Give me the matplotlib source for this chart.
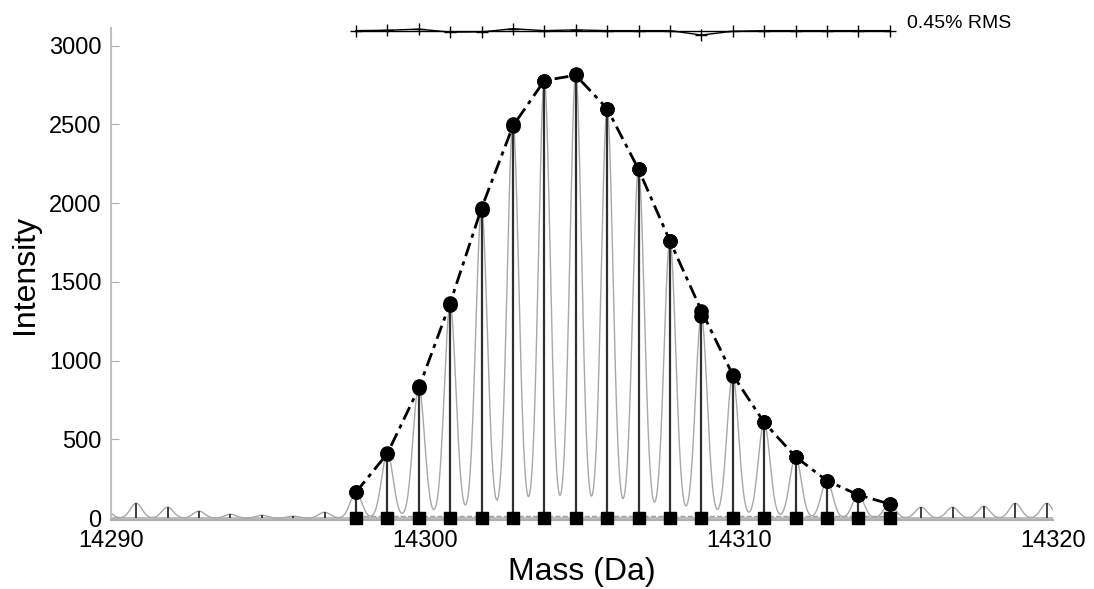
import numpy as np
import matplotlib
matplotlib.use("Agg")
import matplotlib.pyplot as plt

plt.rcParams['font.family'] = ['Liberation Sans', 'DejaVu Sans']

# isotope peak positions (Da)
mass_main = [14297.8, 14298.8, 14299.8, 14300.8, 14301.8, 14302.8, 14303.8, 14304.8, 14305.8,
             14306.8, 14307.8, 14308.8, 14309.8, 14310.8, 14311.8, 14312.8, 14313.8, 14314.8]
# theoretical envelope
theo = [165, 410, 825, 1365, 1968, 2490, 2778, 2812, 2600,
        2215, 1760, 1318, 910, 608, 390, 238, 148, 90]
# observed peak heights
obs = [165, 413, 837, 1353, 1958, 2505, 2778, 2818, 2600,
       2215, 1760, 1283, 905, 608, 390, 238, 148, 90]

# noise peaks outside the envelope
mass_noise = [14289.8, 14290.8, 14291.8, 14292.8, 14293.8, 14294.8, 14295.8, 14296.8,
              14315.8, 14316.8, 14317.8, 14318.8, 14319.8]
noise = [60, 95, 70, 45, 25, 19, 13, 38,
         70, 70, 76, 95, 95]

rms_label = "0.45% RMS"

sigma = 0.185  # peak width (Da)
resid_base = 3095
resid_scale = 0.8

fig = plt.figure(figsize=(10.94, 5.89), dpi=100)
ax = fig.add_axes([0.1015, 0.117, 0.861, 0.835])

# profile spectrum built from all peak heights
all_m = np.array(mass_noise + mass_main)
all_h = np.array(noise + obs)
xs = np.linspace(14290, 14320, 6000)
prof = (all_h[:, None] * np.exp(-(xs[None, :] - all_m[:, None])**2 / (2 * sigma**2))).sum(axis=0)
ax.plot(xs, prof, color='#a8a8a8', lw=1.0, zorder=2)

# baseline lines
ax.axhline(0, color='#b0b0b0', lw=1.2, zorder=1)
ax.plot([mass_main[0], mass_main[-1]], [15, 15], color='#a0a0a0', lw=1, ls='--', zorder=1)

# sticks
ax.vlines(mass_noise, 0, noise, color='#303030', lw=1.3, zorder=3)
ax.vlines(mass_main, 0, obs, color='#303030', lw=1.6, zorder=3)

# squares at base
ax.plot(mass_main, np.zeros(len(mass_main)), 's', color='black', ms=8, zorder=5, clip_on=False)

# envelope
ax.plot(mass_main, theo, color='black', lw=2, ls=(0, (5, 2, 1.5, 2)), zorder=4)
ax.plot(mass_main, theo, 'o', color='black', ms=9.5, zorder=5)
ax.plot(mass_main, obs, 'o', color='black', ms=9.5, zorder=5)

# residual strip
resid = np.array(obs) - np.array(theo)
ax.plot([mass_main[0], mass_main[-1]], [resid_base, resid_base], color='black', lw=1, zorder=4)
ax.plot(mass_main, resid_base + resid_scale * resid, color='black', lw=1, marker='+',
        ms=9, mew=1, zorder=4, clip_on=False)
ax.text(14315.35, 3140, rms_label, fontsize=14, va='center', ha='left', clip_on=False)

ax.set_xlim(14290, 14320)
ax.set_ylim(-12, 3110)
ax.set_xticks([14290, 14300, 14310, 14320])
ax.set_yticks([0, 500, 1000, 1500, 2000, 2500, 3000])
ax.tick_params(axis='y', direction='in', length=6, color='#b0b0b0', labelsize=17, pad=7)
ax.tick_params(axis='x', length=0, labelsize=17, pad=7)
for s in ['top', 'right']:
    ax.spines[s].set_visible(False)
ax.spines['left'].set_color('#c0c0c0')
ax.spines['bottom'].set_color('#b0b0b0')
ax.spines['left'].set_linewidth(1.5)
ax.spines['bottom'].set_linewidth(1.5)

ax.set_xlabel("Mass (Da)", fontsize=23, labelpad=4)
ax.set_ylabel("Intensity", fontsize=23, labelpad=6)

fig.savefig("out.png", dpi=100)
